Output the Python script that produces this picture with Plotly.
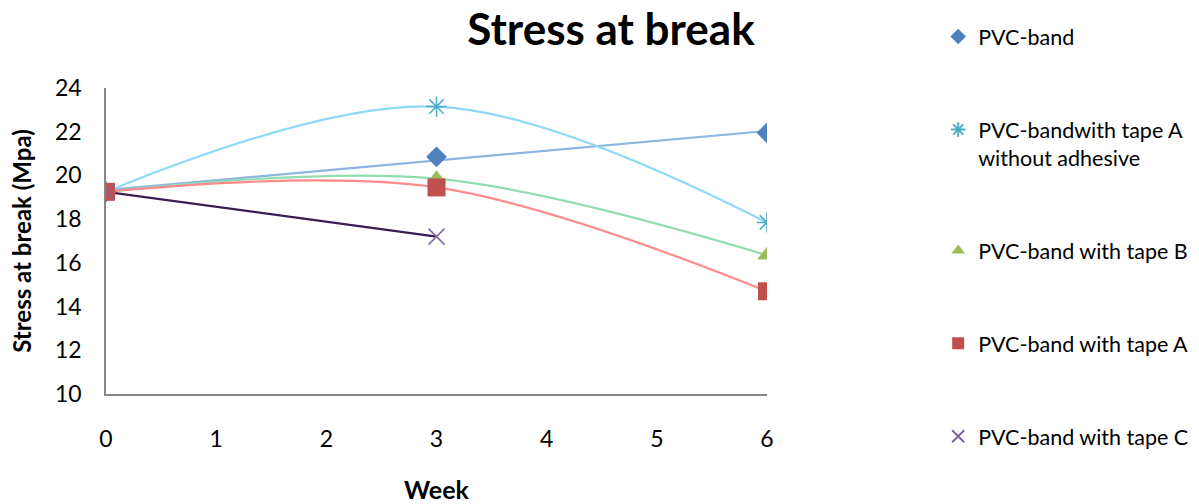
import numpy as np
import plotly.graph_objects as go

# --- data ---
weeks = [0, 3, 6]
weeks_c = [0, 3]
pvc_band = [19.25, 20.85, 21.95]
tape_a_no_adh = [19.25, 23.15, 17.85]
tape_b = [19.25, 19.85, 16.35]
tape_a = [19.25, 19.45, 14.7]
tape_c = [19.25, 17.2]

names = ["PVC-band", "PVC-bandwith tape A<br>without adhesive", "PVC-band with tape B",
         "PVC-band with tape A", "PVC-band with tape C"]
x_ticks = [0, 1, 2, 3, 4, 5, 6]
y_ticks = [10, 12, 14, 16, 18, 20, 22, 24]

FONT = "Lato, Open Sans, sans-serif"

fig = go.Figure()

# trendlines first so the markers sit on top
slope, icpt = np.polyfit(weeks, pvc_band, 1)
lin_x = [weeks[0], weeks[-1]]
fig.add_trace(go.Scatter(x=lin_x, y=[icpt + slope * v for v in lin_x], mode="lines",
                         line=dict(color="#8DB4E2", width=2.2), showlegend=False, hoverinfo="skip"))
for ys, col in [(tape_a_no_adh, "#8ED8F8"), (tape_b, "#92DDB0"), (tape_a, "#FF8A8A")]:
    fig.add_trace(go.Scatter(x=weeks, y=ys, mode="lines", line=dict(color=col, width=2.2, shape="spline"),
                             showlegend=False, hoverinfo="skip"))
fig.add_trace(go.Scatter(x=weeks_c, y=tape_c, mode="lines", line=dict(color="#3B1C52", width=2.2),
                         showlegend=False, hoverinfo="skip"))

# markers
marker_specs = [
    (weeks, pvc_band, dict(symbol="diamond", size=16, color="#4F81BD")),
    (weeks, tape_a_no_adh, dict(symbol="asterisk-open", size=17, color="#4BACC6",
                                line=dict(color="#4BACC6", width=1.5))),
    (weeks, tape_b, dict(symbol="triangle-up", size=17, color="#9BBB59")),
    (weeks, tape_a, dict(symbol="square", size=18, color="#C0504D")),
    (weeks_c, tape_c, dict(symbol="x-thin-open", size=16, color="#8064A2",
                           line=dict(color="#8064A2", width=1.5))),
]
for i, (xs, ys, mk) in enumerate(marker_specs):
    fig.add_trace(go.Scatter(x=xs, y=ys, mode="markers", name=names[i], marker=mk,
                             legendgroup=str(i)))

axis_common = dict(showgrid=False, zeroline=False, showline=True, linecolor="#868686", linewidth=1.5,
                   ticks="", tickfont=dict(family=FONT, size=23, color="#000000"))

fig.update_layout(
    width=1199, height=504,
    paper_bgcolor="white", plot_bgcolor="white",
    margin=dict(l=106, r=432, t=88, b=110, autoexpand=False),
    font=dict(family=FONT, color="#000000"),
    title=dict(text="<b>Stress at break</b>", x=611 / 1199, xanchor="center", y=0.942, yanchor="middle",
               font=dict(family=FONT, size=44, color="#000000")),
    xaxis=dict(range=[0, 6], tickvals=x_ticks, ticklabelstandoff=24,
               title=dict(text="<b>Week</b>", font=dict(family=FONT, size=25), standoff=34),
               **axis_common),
    yaxis=dict(range=[10, 24], tickvals=y_ticks, ticklabelstandoff=18,
               title=dict(text="<b>Stress at break (Mpa)</b>", font=dict(family=FONT, size=24), standoff=17),
               **axis_common),
    legend=dict(x=1.259, xanchor="left", y=1.235, yanchor="top", tracegroupgap=62, valign="top",
                font=dict(family=FONT, size=21.5, color="#000000"), bgcolor="rgba(0,0,0,0)",
                itemsizing="constant", maxheight=504),
)

# drop the default 8px body margin so the figure fills the window exactly
fig.write_html("out.html", config={"displayModeBar": False},
               post_script="document.body.style.margin='0';")
